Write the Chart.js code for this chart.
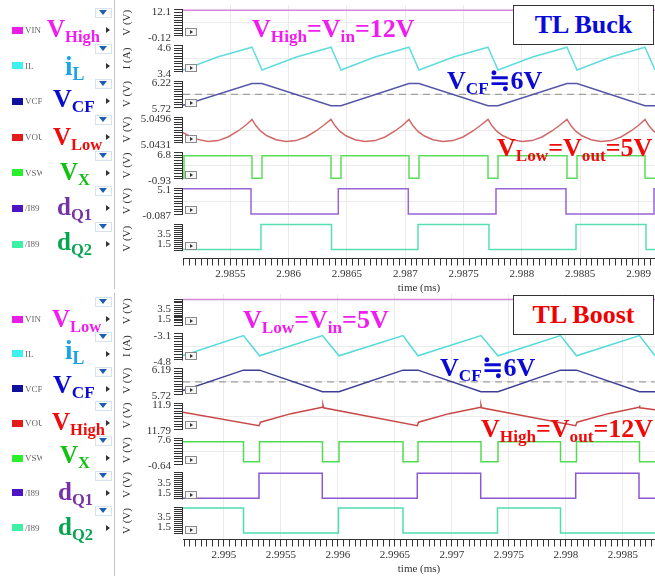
<!DOCTYPE html>
<html>
<head>
<meta charset="utf-8">
<script src="https://cdn.jsdelivr.net/npm/chart.js@4.4.1/dist/chart.umd.min.js"></script>
<style>
  html, body { margin: 0; padding: 0; background: #fff; }
  body { position: relative; width: 655px; height: 576px; overflow: hidden; font-family: 'Liberation Serif', 'DejaVu Serif', serif; }
  .panel { position: absolute; left: 0; width: 655px; }
  .panel canvas { position: absolute; left: 0; top: 0; }
  .sep { position: absolute; left: 114px; width: 1px; background: #c4c4c4; }
  .sw { position: absolute; left: 12px; width: 11px; height: 7px; }
  .nm { position: absolute; left: 25px; width: 17px; overflow: hidden; font-size: 9px; line-height: 10px; color: #666; white-space: nowrap; }
  .dd { position: absolute; left: 95px; width: 15px; height: 8px; border: 1px solid #d6e2ee; background: #fff; }
  .dd::after { content: ''; position: absolute; left: 3px; top: 1px; border-left: 4.5px solid transparent; border-right: 4.5px solid transparent; border-top: 5px solid #1a5fb4; }
  .ar { position: absolute; left: 106px; width: 0; height: 0; border-top: 3px solid transparent; border-bottom: 3px solid transparent; border-left: 4px solid #333; }
  .ann { position: absolute; font-weight: bold; white-space: nowrap; line-height: 1; }
  .ann sub { font-size: 0.66em; vertical-align: -0.28em; line-height: 0; }
  .box { position: absolute; left: 513px; width: 139px; height: 38px; border: 1.5px solid #333; background: #fff; text-align: center; font: bold 26px 'Liberation Serif', serif; line-height: 38px; }
</style>
</head>
<body>
<div class="panel" id="buckPanel" style="top:0;height:295px"><canvas id="buckChart" width="655" height="295"></canvas></div>
<div class="panel" id="boostPanel" style="top:292px;height:284px"><canvas id="boostChart" width="655" height="284"></canvas></div>
<div class="box" style="top:5px;color:#0a0ad8">TL Buck</div>
<div class="box" style="top:295px;color:#f00000">TL Boost</div>
<script>
// ---------- TL Buck (time in ms) ----------
const buckRange = [2.9850935, 2.9891415];
const buckTimeTicks = [2.9855, 2.986, 2.9865, 2.987, 2.9875, 2.988, 2.9885, 2.989];
const buckLimits = [[-0.12, 12.1], [3.4, 4.6], [5.72, 6.22], [5.0431, 5.0496], [-0.93, 6.8], [-0.087, 5.1], [-0.087, 5.1]];
const buckMarks = [[12.1, -0.12], [4.6, 3.4], [6.22, 5.72], [5.0496, 5.0431], [6.8, -0.93], [5.1, -0.087], [3.5, 1.5]];

const buckVinT = [2.9850935, 2.9891415];
const buckVinV = [12.0, 12.0];

const buckIlT = [2.9850935, 2.9853894, 2.9856853, 2.9857710, 2.9860669, 2.9863628, 2.9864485, 2.9867401,
  2.9870317, 2.9871175, 2.9874134, 2.9877093, 2.9877950, 2.9880909, 2.9883868, 2.9884726,
  2.9887641, 2.9890557, 2.9891415];
const buckIlV = [3.48, 4.08, 4.53, 3.48, 4.08, 4.53, 3.48, 4.08, 4.53, 3.48, 4.08, 4.53, 3.48, 4.08, 4.53, 3.48,
  4.08, 4.53, 3.48];

const buckVcfT = [2.9850935, 2.9856853, 2.9857710, 2.9863628, 2.9864485, 2.9870317, 2.9871175, 2.9877093,
  2.9877950, 2.9883868, 2.9884726, 2.9890557, 2.9891415];
const buckVcfV = [5.76, 6.18, 6.18, 5.75, 5.75, 6.18, 6.18, 5.75, 5.75, 6.18, 6.18, 5.75, 5.75];
const buckVcfRef = 5.97;

const buckVlowT = [2.9850935, 2.9851535, 2.9852221, 2.9853079, 2.9853937, 2.9854794, 2.9855652, 2.9856338,
  2.9856853, 2.9857196, 2.9857625, 2.9858139, 2.9858911, 2.9859769, 2.9860627, 2.9861484, 2.9862342, 2.9863028,
  2.9863628, 2.9863971, 2.9864400, 2.9864914, 2.9865686, 2.9866544, 2.9867402, 2.9868259, 2.9869117, 2.9869803,
  2.9870317, 2.9870660, 2.9871089, 2.9871603, 2.9872375, 2.9873233, 2.9874091, 2.9874948, 2.9875806, 2.9876492,
  2.9877093, 2.9877436, 2.9877865, 2.9878379, 2.9879151, 2.9880009, 2.9880867, 2.9881724, 2.9882582, 2.9883268,
  2.9883868, 2.9884211, 2.9884640, 2.9885154, 2.9885926, 2.9886784, 2.9887642, 2.9888499, 2.9889357, 2.9890043,
  2.9890557, 2.9890900, 2.9891329, 2.9891415];
const buckVlowV = [5.0457, 5.0448, 5.0440, 5.04345, 5.0437, 5.0446, 5.0461, 5.0476,
  5.0490, 5.0474, 5.0460, 5.0449, 5.0439, 5.04345, 5.0437, 5.0446, 5.0461, 5.0476,
  5.0490, 5.0474, 5.0460, 5.0449, 5.0439, 5.04345, 5.0437, 5.0446, 5.0461, 5.0476,
  5.0490, 5.0474, 5.0460, 5.0449, 5.0439, 5.04345, 5.0437, 5.0446, 5.0461, 5.0476,
  5.0490, 5.0474, 5.0460, 5.0449, 5.0439, 5.04345, 5.0437, 5.0446, 5.0461, 5.0476,
  5.0490, 5.0474, 5.0460, 5.0449, 5.0439, 5.04345, 5.0437, 5.0446, 5.0461, 5.0476,
  5.0490, 5.0474, 5.0460, 5.0458];

const buckVxT = [2.9850935, 2.9851021, 2.9851021, 2.9856853, 2.9856853, 2.9857710, 2.9857710, 2.9863628,
  2.9863628, 2.9864485, 2.9864485, 2.9870317, 2.9870317, 2.9871175, 2.9871175, 2.9877093, 2.9877093,
  2.9877950, 2.9877950, 2.9883868, 2.9883868, 2.9884726, 2.9884726, 2.9890557, 2.9890557, 2.9891415];
const buckVxV = [-0.8, -0.8, 5.85, 5.85, -0.8, -0.8, 5.85, 5.85, -0.8, -0.8, 5.85, 5.85, -0.8, -0.8, 5.85, 5.85,
  -0.8, -0.8, 5.85, 5.85, -0.8, -0.8, 5.85, 5.85, -0.8, -0.8];

const buckQ1T = [2.9850935, 2.9856767, 2.9856767, 2.9864254, 2.9864254, 2.9870257, 2.9870257, 2.9877779,
  2.9877779, 2.9883782, 2.9883782, 2.9891329, 2.9891329, 2.9891415];
const buckQ1V = [5, 5, 0, 0, 5, 5, 0, 0, 5, 5, 0, 0, 5, 5];

const buckQ2T = [2.9850935, 2.9857624, 2.9857624, 2.9863671, 2.9863671, 2.9871089, 2.9871089, 2.9877178,
  2.9877178, 2.9884640, 2.9884640, 2.9890643, 2.9890643, 2.9891415];
const buckQ2V = [0, 0, 5, 5, 0, 0, 5, 5, 0, 0, 5, 5, 0, 0];

// ---------- TL Boost (time in ms) ----------
const boostRange = [2.9946404, 2.9987807];
const boostTimeTicks = [2.995, 2.9955, 2.996, 2.9965, 2.997, 2.9975, 2.998, 2.9985];
const boostLimits = [[-0.087, 5.1], [-4.8, -3.1], [5.72, 6.19], [11.79, 11.9], [-0.64, 7.6], [-0.087, 5.1], [-0.087, 5.1]];
const boostMarks = [[3.5, 1.5], [-3.1, -4.8], [6.19, 5.72], [11.9, 11.79], [7.6, -0.64], [3.5, 1.5], [3.5, 1.5]];

const boostVinT = [2.9946404, 2.9987807];
const boostVinV = [5.0, 5.0];

const boostIlT = [2.9946404, 2.9951711, 2.9953114, 2.9958640, 2.9960088, 2.9965702, 2.9967018, 2.9972544,
  2.9974035, 2.9979518, 2.9980921, 2.9986447, 2.9987807];
const boostIlV = [-4.53, -3.22, -4.54, -3.22, -4.54, -3.22, -4.54, -3.22, -4.54, -3.22, -4.54, -3.22, -4.54];

const boostVcfT = [2.9946404, 2.9951711, 2.9953114, 2.9958640, 2.9960088, 2.9965702, 2.9967018, 2.9972544,
  2.9974035, 2.9979518, 2.9980921, 2.9986447, 2.9987807];
const boostVcfV = [5.79, 6.16, 6.16, 5.77, 5.77, 6.16, 6.16, 5.77, 5.77, 6.16, 6.16, 5.77, 5.77];
const boostVcfRef = 5.95;

const boostVhighT = [2.9946404, 2.9953070, 2.9953202, 2.9955877, 2.9958623, 2.9958684, 2.9958728, 2.9966956,
  2.9967061, 2.9969737, 2.9972518, 2.9972544, 2.9972588, 2.9980851, 2.9980965, 2.9983684, 2.9986404,
  2.9986447, 2.9986491, 2.9987807];
const boostVhighV = [11.862, 11.805, 11.820, 11.856, 11.883, 11.891, 11.881, 11.805, 11.820, 11.856, 11.883,
  11.891, 11.881, 11.805, 11.820, 11.856, 11.883, 11.891, 11.881, 11.872];

const boostVxT = [2.9946404, 2.9951711, 2.9951711, 2.9953114, 2.9953114, 2.9958640, 2.9958640, 2.9960088,
  2.9960088, 2.9965702, 2.9965702, 2.9967018, 2.9967018, 2.9972544, 2.9972544, 2.9974035, 2.9974035,
  2.9979518, 2.9979518, 2.9980921, 2.9980921, 2.9986447, 2.9986447, 2.9987807];
const boostVxV = [6.4, 6.4, 0.1, 0.1, 6.4, 6.4, 0.1, 0.1, 6.4, 6.4, 0.1, 0.1, 6.4, 6.4, 0.1, 0.1, 6.4,
  6.4, 0.1, 0.1, 6.4, 6.4, 0.1, 0.1];

const boostQ1T = [2.9946404, 2.9953070, 2.9953070, 2.9958623, 2.9958623, 2.9966956, 2.9966956, 2.9972518,
  2.9972518, 2.9980851, 2.9980851, 2.9986404, 2.9986404, 2.9987807];
const boostQ1V = [0, 0, 5, 5, 0, 0, 5, 5, 0, 0, 5, 5, 0, 0];

const boostQ2T = [2.9946404, 2.9951711, 2.9951711, 2.9960044, 2.9960044, 2.9965702, 2.9965702, 2.9973991,
  2.9973991, 2.9979518, 2.9979518, 2.9987807];
const boostQ2V = [5, 5, 0, 0, 5, 5, 0, 0, 5, 5, 0, 0];

const stripTitles = ['V (V)', 'I (A)', 'V (V)', 'V (V)', 'V (V)', 'V (V)', 'V (V)'];
const legendNames = ['VIN', 'IL', 'VCF', 'VOUT', 'VSW', '/I89', '/I89'];

// ---------- look ----------
const INK = '#333';
const GRID = '#ebebeb';
const AXIS_W = 68;
const X_AXIS_H = 36.5;
const COMB_PX = 26;
const tickFont = { family: "'Liberation Serif', serif", size: 11 };
const legendColors = ['#e81ee8', '#3ef0f0', '#10109c', '#e31b1b', '#2cef2c', '#4c14c4', '#3cf0a4'];

const near = (a, b, tol) => Math.abs(a - b) < tol;

// stop scales from pushing the chart area in for their edge labels
function noEdgePadding(sc) {
  sc.paddingTop = 0;
  sc.paddingBottom = 0;
  sc.paddingLeft = 0;
  sc.paddingRight = 0;
}

function makePanel(canvasId, spec) {
  const n = spec.limits.length;
  const heights = spec.limits.map((_, i) =>
    i === n - 1 ? spec.padTop + COMB_PX + spec.lastPad : spec.pitch);
  const scales = {};

  spec.limits.forEach(([lo, hi], i) => {
    const span = hi - lo;
    const k = span / COMB_PX;
    const padBottom = heights[i] - spec.padTop - COMB_PX;
    const marks = spec.marks[i];
    const count = spec.dense[i] ? 14 : 11;
    const mid = lo + span / 2;
    const tol = span * 1e-6;
    scales['y' + i] = {
      type: 'linear',
      position: 'left',
      stack: 'strips',
      stackWeight: heights[i],
      weight: n - i,
      min: lo - padBottom * k,
      max: hi + spec.padTop * k,
      afterBuildTicks(sc) {
        const ticks = [];
        for (let j = 0; j < count; j++) {
          ticks.push({ value: lo + span * j / (count - 1) });
        }
        marks.forEach(m => {
          if (!ticks.some(t => near(t.value, m, tol))) ticks.push({ value: m });
        });
        sc.ticks = ticks;
      },
      afterFit(sc) {
        sc.width = AXIS_W;
        noEdgePadding(sc);
      },
      ticks: {
        autoSkip: false,
        padding: 3,
        labelOffset: 2,
        color: INK,
        font: tickFont,
        callback: v => {
          const m = marks.find(mm => near(mm, v, tol));
          return m === undefined ? '' : String(m);
        },
      },
      grid: {
        tickLength: 9,
        tickColor: INK,
        lineWidth: 1,
        color: c => (c.tick && near(c.tick.value, mid, tol) ? GRID : 'transparent'),
      },
      border: { display: false },
      title: {
        display: true,
        text: stripTitles[i],
        color: INK,
        font: tickFont,
        padding: { top: 6, bottom: 0 },
      },
    };
  });

  const isMajor = v => spec.timeTicks.some(t => near(t, v, 1e-9));
  scales.x = {
    type: 'linear',
    position: 'bottom',
    min: spec.range[0],
    max: spec.range[1],
    afterBuildTicks(sc) {
      const a = Math.ceil(spec.range[0] * 20000 - 1e-6);
      const b = Math.floor(spec.range[1] * 20000 + 1e-6);
      const ticks = [];
      for (let j = a; j <= b; j++) ticks.push({ value: j / 20000 });
      sc.ticks = ticks;
    },
    afterFit(sc) {
      sc.height = X_AXIS_H;
      noEdgePadding(sc);
    },
    ticks: {
      autoSkip: false,
      maxRotation: 0,
      padding: 2,
      color: INK,
      font: tickFont,
      callback: v => {
        const t = spec.timeTicks.find(tt => near(tt, v, 1e-9));
        return t === undefined ? '' : String(t);
      },
    },
    grid: {
      tickLength: 7,
      tickColor: INK,
      color: c => (c.tick && isMajor(c.tick.value) ? GRID : 'transparent'),
    },
    border: { display: true, color: INK },
    title: { display: true, text: 'time (ms)', color: INK, font: tickFont, padding: { top: 0, bottom: 0 } },
  };

  const datasets = spec.series.map(s => ({
    data: s.t.map((t, j) => ({ x: t, y: s.v[j] })),
    yAxisID: 'y' + s.strip,
    borderColor: s.color,
    borderWidth: 1.5,
    pointRadius: 0,
    tension: 0,
    fill: false,
  }));
  spec.refs.forEach(r => datasets.push({
    data: [{ x: spec.range[0], y: r.value }, { x: spec.range[1], y: r.value }],
    yAxisID: 'y' + r.strip,
    borderColor: '#a0a0a0',
    borderWidth: 1.2,
    borderDash: [7, 5],
    pointRadius: 0,
  }));

  const stripDecor = {
    id: 'stripDecor',
    afterDatasetsDraw(chart) {
      const { ctx, chartArea } = chart;
      const x = chartArea.left;
      spec.limits.forEach(([lo, hi], i) => {
        const sc = chart.scales['y' + i];
        const top = Math.round(sc.getPixelForValue(hi));
        const bot = Math.round(sc.getPixelForValue(lo));
        ctx.save();
        ctx.strokeStyle = INK;
        ctx.lineWidth = 1;
        ctx.beginPath();
        ctx.moveTo(x - 0.5, top);
        ctx.lineTo(x - 0.5, bot + 0.5);
        ctx.stroke();
        ctx.fillStyle = '#f6f6f6';
        ctx.fillRect(x + 2, bot - 8, 12, 8);
        ctx.strokeStyle = '#8a8a8a';
        ctx.strokeRect(x + 2.5, bot - 7.5, 11, 7);
        ctx.fillStyle = '#333';
        ctx.beginPath();
        ctx.moveTo(x + 7, bot - 6);
        ctx.lineTo(x + 10, bot - 4);
        ctx.lineTo(x + 7, bot - 2);
        ctx.closePath();
        ctx.fill();
        ctx.restore();
      });
    },
  };

  new Chart(document.getElementById(canvasId), {
    type: 'line',
    data: { datasets },
    options: {
      responsive: false,
      animation: false,
      events: [],
      layout: { autoPadding: false, padding: { left: 115, top: spec.chartTop, right: 0, bottom: 0 } },
      plugins: { legend: { display: false }, tooltip: { enabled: false } },
      scales,
    },
    plugins: [stripDecor],
  });
}

function decorateLeft(panelTop, spec) {
  const firstComb = panelTop + spec.chartTop + spec.padTop;
  spec.limits.forEach((_, i) => {
    const comb = firstComb + spec.pitch * i;
    const row = comb + 20;
    const add = (cls, css, text) => {
      const d = document.createElement('div');
      d.className = cls;
      Object.assign(d.style, css);
      if (text) d.textContent = text;
      document.body.appendChild(d);
    };
    add('sw', { top: (row - 3.5) + 'px', background: legendColors[i] });
    add('nm', { top: (row - 5) + 'px' }, legendNames[i]);
    add('dd', { top: (comb - 2) + 'px' });
    add('ar', { top: (row - 3) + 'px' });
  });
}

function ann(html, x, baseline, size, color) {
  const d = document.createElement('div');
  d.className = 'ann';
  d.innerHTML = html;
  d.style.left = x + 'px';
  d.style.top = (baseline - 0.8375 * size) + 'px';
  d.style.fontSize = size + 'px';
  d.style.color = color;
  document.body.appendChild(d);
}

const buckSpec = {
  range: buckRange, timeTicks: buckTimeTicks, limits: buckLimits, marks: buckMarks,
  dense: [false, false, false, false, false, false, true],
  chartTop: 5, padTop: 5, pitch: 35.67, lastPad: 8.5,
  series: [
    { t: buckVinT, v: buckVinV, strip: 0, color: '#da86da' },
    { t: buckIlT, v: buckIlV, strip: 1, color: '#5fdcdc' },
    { t: buckVcfT, v: buckVcfV, strip: 2, color: '#5656a8' },
    { t: buckVlowT, v: buckVlowV, strip: 3, color: '#d06868' },
    { t: buckVxT, v: buckVxV, strip: 4, color: '#5ade5a' },
    { t: buckQ1T, v: buckQ1V, strip: 5, color: '#9864d6' },
    { t: buckQ2T, v: buckQ2V, strip: 6, color: '#58deb4' },
  ],
  refs: [{ strip: 2, value: buckVcfRef }],
};

const boostSpec = {
  range: boostRange, timeTicks: boostTimeTicks, limits: boostLimits, marks: boostMarks,
  dense: [true, false, false, false, false, true, true],
  chartTop: 2, padTop: 5, pitch: 34.75, lastPad: 6,
  series: [
    { t: boostVinT, v: boostVinV, strip: 0, color: '#d488d8' },
    { t: boostIlT, v: boostIlV, strip: 1, color: '#55dada' },
    { t: boostVcfT, v: boostVcfV, strip: 2, color: '#3e3e96' },
    { t: boostVhighT, v: boostVhighV, strip: 3, color: '#c84848' },
    { t: boostVxT, v: boostVxV, strip: 4, color: '#50dc50' },
    { t: boostQ1T, v: boostQ1V, strip: 5, color: '#8a58d0' },
    { t: boostQ2T, v: boostQ2V, strip: 6, color: '#50dcb0' },
  ],
  refs: [{ strip: 2, value: boostVcfRef }],
};

makePanel('buckChart', buckSpec);
makePanel('boostChart', boostSpec);

[[0, 289], [293, 576]].forEach(([a, b]) => {
  const d = document.createElement('div');
  d.className = 'sep';
  d.style.top = a + 'px';
  d.style.height = (b - a) + 'px';
  document.body.appendChild(d);
});
decorateLeft(0, buckSpec);
decorateLeft(292, boostSpec);

const MAG = '#f01cf0', SKY = '#1ea4e6', BLUE = '#0a0ad2', RED = '#f00a0a', GREEN = '#12c012', PURPLE = '#7432a6', DGREEN = '#08a452';

ann('V<sub>High</sub>', 47, 37, 25, MAG);
ann('i<sub>L</sub>', 65, 76, 27, SKY);
ann('V<sub>CF</sub>', 53, 108, 26, BLUE);
ann('V<sub>Low</sub>', 53, 145, 25, RED);
ann('V<sub>X</sub>', 60, 180, 25, GREEN);
ann('d<sub>Q1</sub>', 57, 215, 25, PURPLE);
ann('d<sub>Q2</sub>', 57, 250, 25, DGREEN);
ann('V<sub>High</sub>=V<sub>in</sub>=12V', 252, 38, 26, MAG);
ann('V<sub>CF</sub>≒6V', 447, 90, 26, BLUE);
ann('V<sub>Low</sub>=V<sub>out</sub>=5V', 497, 157, 26, RED);

ann('V<sub>Low</sub>', 52, 327, 25, MAG);
ann('i<sub>L</sub>', 65, 360, 27, SKY);
ann('V<sub>CF</sub>', 53, 394, 26, BLUE);
ann('V<sub>High</sub>', 52, 430, 25, RED);
ann('V<sub>X</sub>', 60, 463, 25, GREEN);
ann('d<sub>Q1</sub>', 58, 500, 25, PURPLE);
ann('d<sub>Q2</sub>', 58, 535, 25, DGREEN);
ann('V<sub>Low</sub>=V<sub>in</sub>=5V', 243, 329, 26, MAG);
ann('V<sub>CF</sub>≒6V', 440, 377, 26, BLUE);
ann('V<sub>High</sub>=V<sub>out</sub>=12V', 481, 438, 26, RED);
</script>
</body>
</html>
